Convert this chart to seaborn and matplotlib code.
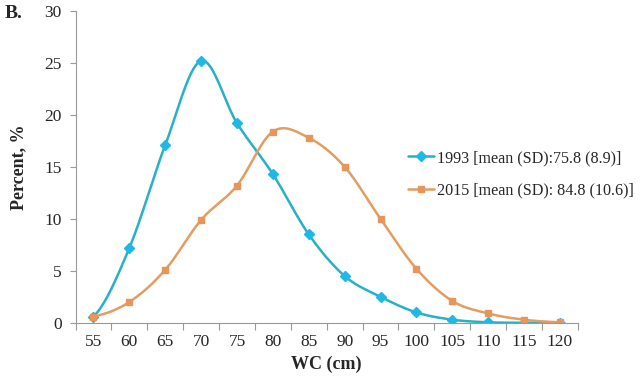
import numpy as np
import pandas as pd
import matplotlib
matplotlib.use("Agg")
import matplotlib.pyplot as plt
import seaborn as sns

# ── Data ────────────────────────────────────────────────────────
wc = [55, 60, 65, 70, 75, 80, 85, 90, 95, 100, 105, 110, 115, 120]
pct_1993 = [0.6, 7.2, 17.1, 25.2, 19.2, 14.3, 8.5, 4.5, 2.5, 1.0, 0.3, 0.05, 0.0, 0.0]
pct_2015 = [0.6, 2.0, 5.1, 9.9, 13.2, 18.4, 17.8, 15.0, 10.0, 5.2, 2.1, 0.9, 0.3, 0.05]
labels = ["1993 [mean (SD):75.8 (8.9)]", "2015 [mean (SD): 84.8 (10.6)]"]

sns.set_theme(style="white")
plt.rcParams["font.family"] = ["Liberation Serif", "DejaVu Serif"]

LINE = {"1993": "#27B0C6", "2015": "#E39D60"}
MARK = {"1993": "#1DB8E6", "2015": "#E8955A"}


def smooth(x, y, n=20):
    """Catmull-Rom style smoothing like Excel's smoothed line."""
    x = np.asarray(x, float)
    y = np.asarray(y, float)
    px = np.concatenate([[2 * x[0] - x[1]], x, [2 * x[-1] - x[-2]]])
    py = np.concatenate([[y[0]], y, [y[-1]]])
    xs, ys = [], []
    for i in range(1, len(px) - 2):
        t = np.linspace(0, 1, n, endpoint=False)
        for p, out in ((px, xs), (py, ys)):
            p0, p1, p2, p3 = p[i - 1], p[i], p[i + 1], p[i + 2]
            out.append(0.5 * ((2 * p1) + (-p0 + p2) * t
                              + (2 * p0 - 5 * p1 + 4 * p2 - p3) * t ** 2
                              + (-p0 + 3 * p1 - 3 * p2 + p3) * t ** 3))
    xs.append([x[-1]])
    ys.append([y[-1]])
    return np.concatenate(xs), np.concatenate(ys)


fig = plt.figure(figsize=(6.4, 3.78), dpi=100)
ax = fig.add_axes([0.118, 0.146, 0.785, 0.825])

handles = []
for key, vals, marker, lab in [("1993", pct_1993, "D", labels[0]),
                               ("2015", pct_2015, "s", labels[1])]:
    sx, sy = smooth(wc, vals)
    sns.lineplot(x=sx, y=sy, ax=ax, color=LINE[key], linewidth=1.8,
                 sort=False, estimator=None)
    ax.plot(wc, vals, linestyle="none", marker=marker, markersize=5,
            color=MARK[key], markeredgecolor=MARK[key])
    h, = ax.plot([], [], color=LINE[key], linewidth=1.8, marker=marker,
                 markersize=5, markerfacecolor=MARK[key], markeredgecolor=MARK[key])
    handles.append(h)

ax.set_xlim(52.5, 122.5)
ax.set_ylim(0, 30)
ax.set_yticks(range(0, 31, 5))
ax.set_xticks(np.arange(52.5, 123, 5))
ax.set_xticklabels([])
ax.set_xticks(wc, minor=True)
ax.set_xticklabels([str(v) for v in wc], minor=True)
ax.tick_params(axis="x", which="major", direction="out", length=5,
               color="#999999", width=0.8, bottom=True)
ax.tick_params(axis="x", which="minor", length=0, labelsize=12.5, pad=8,
               bottom=True)
ax.tick_params(axis="y", direction="out", length=4, color="#999999",
               width=0.8, labelsize=12.5, left=True, pad=6)

for s in ["top", "right"]:
    ax.spines[s].set_visible(False)
for s in ["left", "bottom"]:
    ax.spines[s].set_color("#999999")
    ax.spines[s].set_linewidth(0.8)

ax.set_xlabel("WC (cm)", fontsize=13, fontweight="bold", labelpad=4)
ax.set_ylabel("Percent, %", fontsize=13, fontweight="bold", labelpad=12)

fig.legend(handles, labels, loc="upper left", bbox_to_anchor=(0.628, 0.62),
           frameon=False, fontsize=11.6, handlelength=1.6, handletextpad=0.15,
           labelspacing=1.0, borderaxespad=0)

fig.text(0.008, 0.965, "B.", fontsize=14, fontweight="bold", va="center")

fig.savefig("out.png", dpi=100)
